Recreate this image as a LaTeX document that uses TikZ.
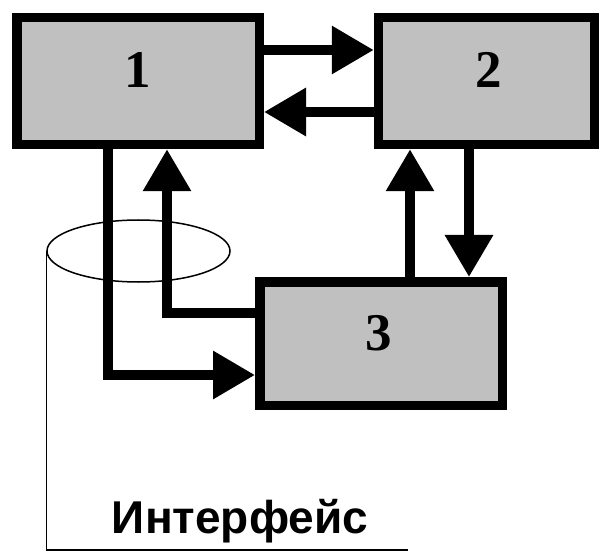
\documentclass[tikz,border=0pt]{standalone}
\usepackage{fontspec}
\setmainfont{Liberation Serif}
\newfontfamily\ifacefont{Liberation Sans}
\usetikzlibrary{arrows.meta,shapes.geometric}
\definecolor{boxgray}{HTML}{C0C0C0}
\tikzset{
  block/.style={draw=black, fill=boxgray, line width=9.5pt, inner sep=0pt},
  digit/.style={font=\fontsize{53}{53}\selectfont\bfseries, inner sep=0pt},
  flow/.style={line width=9.5pt, -{Triangle[length=42pt,width=46pt]}},
  wire/.style={line width=9.5pt},
  thinline/.style={line width=1.5pt},
}
\begin{document}
\begin{tikzpicture}[x=1pt,y=-1pt]
  \path[use as bounding box, fill=white] (0,0) rectangle (599,553);

  % the three blocks
  \node[block, minimum width=242.5pt, minimum height=127pt] (b1) at (138,81) {};
  \node[block, minimum width=216.5pt, minimum height=127pt] (b2) at (486.75,81) {};
  \node[block, minimum width=242.5pt, minimum height=123.5pt] (b3) at (381,343.5) {};
  \node[digit] (n1) at (138,70) {1};
  \node[digit] (n2) at (489,70) {2};
  \node[digit] (n3) at (379,333.5) {3};

  % lanes of the connectors
  \coordinate (yTop) at (0,50);
  \coordinate (yMid) at (0,112);
  \coordinate (xUp2) at (410,0);
  \coordinate (xDn3) at (469,0);
  \coordinate (xDn1) at (108,0);
  \coordinate (xUp1) at (167,0);
  \coordinate (yOut3) at (0,313);
  \coordinate (yIn3) at (0,375);

  % connectors between 1 and 2
  \draw[flow] (b1.east |- yTop) -- (b2.west |- yTop);
  \draw[flow] (b2.west |- yMid) -- (b1.east |- yMid);

  % connectors between 2 and 3
  \draw[flow] (b3.north -| xUp2) -- (b2.south -| xUp2);
  \draw[flow] (b2.south -| xDn3) -- (b3.north -| xDn3);

  % connectors between 1 and 3
  \draw[flow] (b1.south -| xDn1) |- (b3.west |- yIn3);
  \draw[flow] (b3.west |- yOut3) -| (b1.south -| xUp1);

  % interface ring and its leader
  \node[ellipse, draw, thinline, inner sep=0pt, minimum width=183pt, minimum height=62pt] (ring) at (138.5,251) {};
  \coordinate (corner) at (48,550);
  \coordinate (lineEnd) at (408,550);
  \draw[thinline] (ring.west) -- (ring.west |- corner) -- (lineEnd);
  \node[font=\ifacefont\fontsize{46}{46}\selectfont\bfseries, inner sep=0pt, anchor=base] (iface) at (240,533) {Интерфейс};
\end{tikzpicture}
\end{document}
